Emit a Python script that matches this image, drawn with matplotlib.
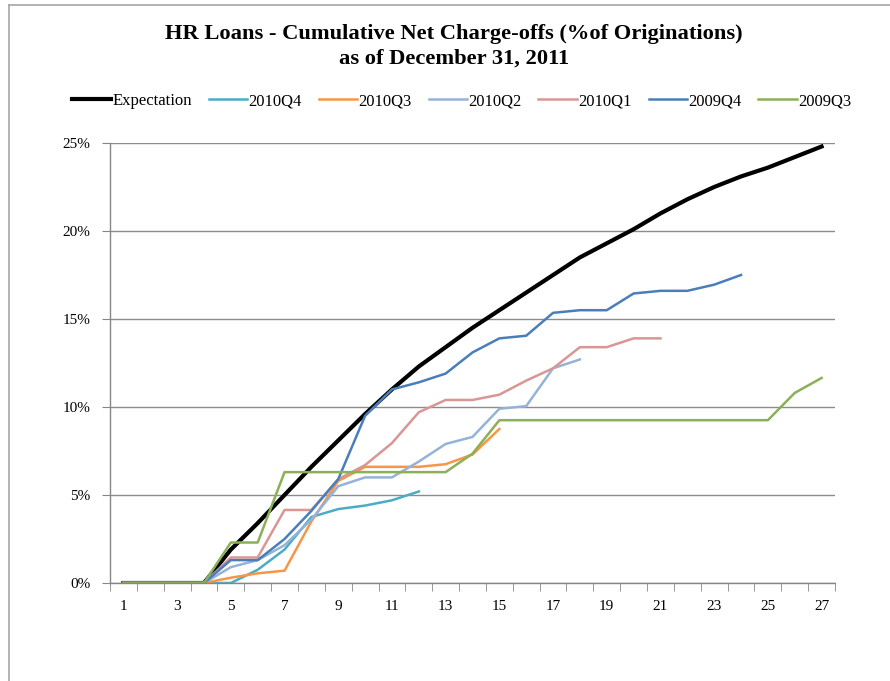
import numpy as np
import matplotlib
matplotlib.use("Agg")
import matplotlib.pyplot as plt
from matplotlib.lines import Line2D
from matplotlib.ticker import FixedLocator, FuncFormatter

plt.rcParams['font.family'] = ['Liberation Serif', 'DejaVu Serif']

periods = list(range(1, 28))
tick_labels = [str(i) for i in range(1, 28, 2)]

expectation = [0, 0, 0, 0, 1.9, 3.4, 5.0, 6.6, 8.1, 9.6, 11.0, 12.3, 13.4, 14.5,
               15.5, 16.5, 17.5, 18.5, 19.3, 20.1, 21.0, 21.8, 22.5, 23.1, 23.6, 24.2, 24.8]
q4_2010 = [0, 0, 0, 0, 0.0, 0.75, 1.9, 3.75, 4.2, 4.4, 4.7, 5.2]
q3_2010 = [0, 0, 0, 0, 0.3, 0.55, 0.7, 3.5, 5.8, 6.6, 6.6, 6.6, 6.75, 7.3, 8.75]
q2_2010 = [0, 0, 0, 0, 0.9, 1.3, 2.15, 3.6, 5.5, 6.0, 6.0, 6.9, 7.9, 8.3, 9.9, 10.05, 12.2, 12.7]
q1_2010 = [0, 0, 0, 0, 1.45, 1.45, 4.15, 4.15, 5.9, 6.7, 7.95, 9.7, 10.4, 10.4, 10.7, 11.5,
           12.2, 13.4, 13.4, 13.9, 13.9]
q4_2009 = [0, 0, 0, 0, 1.3, 1.3, 2.5, 4.1, 5.9, 9.5, 11.0, 11.4, 11.9, 13.1, 13.9, 14.05,
           15.35, 15.5, 15.5, 16.45, 16.6, 16.6, 16.95, 17.5]
q3_2009 = [0, 0, 0, 0, 2.3, 2.3, 6.3, 6.3, 6.3, 6.3, 6.3, 6.3, 6.3, 7.35, 9.25, 9.25, 9.25,
           9.25, 9.25, 9.25, 9.25, 9.25, 9.25, 9.25, 9.25, 10.8, 11.65]

series = [
    ("Expectation", expectation, "#000000", 3.0),
    ("2010Q4", q4_2010, "#4BACC6", 1.8),
    ("2010Q3", q3_2010, "#F79646", 1.8),
    ("2010Q2", q2_2010, "#95B3D7", 1.8),
    ("2010Q1", q1_2010, "#D99694", 1.8),
    ("2009Q4", q4_2009, "#4A7EBB", 1.8),
    ("2009Q3", q3_2009, "#8CB055", 1.8),
]

W, H = 890, 681
fig = plt.figure(figsize=(W / 100, H / 100), dpi=100)
ax = fig.add_axes([110 / W, 1 - 583 / H, (835 - 110) / W, (583 - 143) / H])

handles = []
for name, vals, color, lw in series:
    xs = periods[:len(vals)]
    ax.plot(xs, vals, color=color, lw=lw, solid_joinstyle='round', label=name)
    handles.append(Line2D([], [], color=color, lw=lw))

ax.set_xlim(0.5, 27.5)
ax.set_ylim(0, 25)
ax.yaxis.set_major_locator(FixedLocator([0, 5, 10, 15, 20, 25]))
ax.yaxis.set_major_formatter(FuncFormatter(lambda v, p: f"{int(v)}%"))
ax.xaxis.set_major_locator(FixedLocator(list(range(1, 28, 2))))
ax.set_xticklabels(tick_labels)
ax.xaxis.set_minor_locator(FixedLocator([i + 0.5 for i in range(0, 28)]))
ax.tick_params(axis='x', which='major', length=0, pad=12, labelsize=11)
ax.tick_params(axis='x', which='minor', length=6, color='#868686', direction='out')
ax.tick_params(axis='y', which='major', length=6, color='#868686', direction='out',
               pad=8, labelsize=11)
ax.grid(axis='y', color='#8C8C8C', lw=1.0)
ax.set_axisbelow(True)
for s in ['top', 'right']:
    ax.spines[s].set_visible(False)
for s in ['left', 'bottom']:
    ax.spines[s].set_color('#868686')
    ax.spines[s].set_linewidth(1.0)

fig.text(454 / W, 1 - 34 / H, "HR Loans - Cumulative Net Charge-offs (%of Originations)",
         ha='center', va='center', fontsize=16.2, fontweight='bold')
fig.text(454 / W, 1 - 59 / H, "as of December 31, 2011",
         ha='center', va='center', fontsize=16.2, fontweight='bold')

fig.legend(handles, [s[0] for s in series], loc='center', bbox_to_anchor=(462 / W, 1 - 101 / H),
           ncol=7, frameon=False, fontsize=12, handlelength=2.3, handletextpad=0.1,
           columnspacing=1.0)

# outer frame
fig.add_artist(Line2D([9 / W, 1], [1 - 5 / H, 1 - 5 / H], color='#A6A6A6', lw=1.2))
fig.add_artist(Line2D([9 / W, 9 / W], [0, 1 - 5 / H], color='#A6A6A6', lw=1.2))

fig.savefig("out.png", dpi=100)
